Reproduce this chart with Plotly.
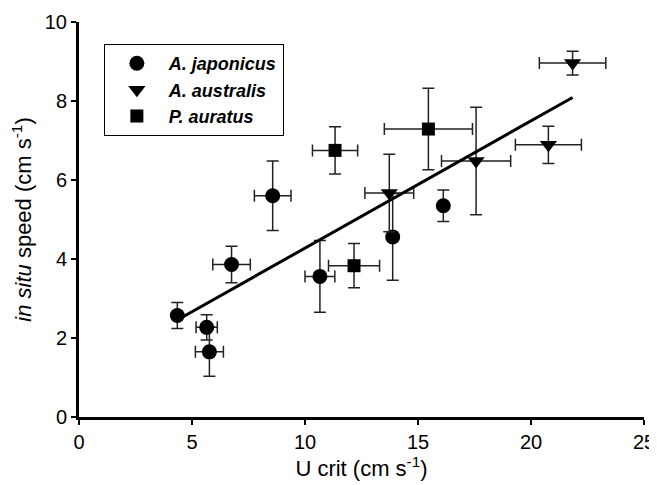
import numpy as np
import plotly.graph_objects as go

# A. japonicus (circles)
jap_x = [4.35, 5.65, 5.77, 6.75, 8.57, 10.66, 13.88, 16.12]
jap_y = [2.57, 2.27, 1.65, 3.86, 5.60, 3.56, 4.56, 5.35]
jap_xerr = [0.0, 0.47, 0.62, 0.83, 0.81, 0.66, 0.0, 0.0]
jap_yerr = [0.33, 0.32, 0.62, 0.46, 0.88, 0.91, 1.10, 0.40]

# A. australis (down triangles)
aus_x = [13.73, 17.57, 20.77, 21.84]
aus_y = [5.67, 6.48, 6.89, 8.96]
aus_xerr = [1.08, 1.53, 1.46, 1.47]
aus_yerr = [0.98, 1.36, 0.47, 0.30]

# P. auratus (squares)
aur_x = [11.33, 15.46, 12.17]
aur_y = [6.75, 7.29, 3.83]
aur_xerr = [1.00, 1.95, 1.13]
aur_yerr = [0.60, 1.03, 0.56]

names = ["A. japonicus", "A. australis", "P. auratus"]
x_ticks = [0, 5, 10, 15, 20, 25]
y_ticks = [0, 2, 4, 6, 8, 10]

FONT = "Liberation Sans, Arial, sans-serif"
ERRC = "#222222"

fig = go.Figure()

series = [
    (jap_x, jap_y, jap_xerr, jap_yerr, "circle", 15),
    (aus_x, aus_y, aus_xerr, aus_yerr, "triangle-down", 15),
    (aur_x, aur_y, aur_xerr, aur_yerr, "square", 13),
]
for (xs, ys, ex, ey, sym, sz), nm in zip(series, names):
    fig.add_trace(go.Scatter(
        x=xs, y=ys, mode="markers", name=f"<b><i>{nm}</i></b>",
        marker=dict(symbol=sym, size=sz, color="black"),
        error_x=dict(type="data", array=ex, color=ERRC, thickness=1.5, width=6),
        error_y=dict(type="data", array=ey, color=ERRC, thickness=1.5, width=6),
    ))

# regression line through all points
all_x = np.array(jap_x + aus_x + aur_x)
all_y = np.array(jap_y + aus_y + aur_y)
slope, intercept = np.polyfit(all_x, all_y, 1)
lx = np.array([all_x.min(), all_x.max()])
fig.add_trace(go.Scatter(
    x=lx, y=slope * lx + intercept, mode="lines",
    line=dict(color="black", width=3), showlegend=False, hoverinfo="skip",
))

# page body has an 8px margin, so the figure is drawn 8px in and 8px down
fig.update_layout(
    width=649, height=477,
    margin=dict(l=71, r=13, t=14, b=68),
    paper_bgcolor="white", plot_bgcolor="white",
    font=dict(family=FONT, size=20, color="black"),
    showlegend=True,
    legend=dict(
        x=0.044, y=0.944, xanchor="left", yanchor="top",
        bordercolor="black", borderwidth=1, bgcolor="white",
        font=dict(family=FONT, size=18, color="black"),
        tracegroupgap=0, itemwidth=54,
    ),
)
fig.update_xaxes(
    range=[0, 25], tickvals=x_ticks, ticktext=[str(v) for v in x_ticks],
    showgrid=False, zeroline=False, automargin=False,
    showline=True, linecolor="black", linewidth=3,
    ticks="outside", ticklen=5, tickwidth=1.5, tickcolor="black",
    tickfont=dict(size=20, color="black"),
    title=dict(text="U crit (cm s<sup>-1</sup>)", font=dict(size=22), standoff=4),
)
fig.update_yaxes(
    range=[0, 10], tickvals=y_ticks, ticktext=[str(v) for v in y_ticks],
    showgrid=False, zeroline=False, automargin=False,
    showline=True, linecolor="black", linewidth=3,
    ticks="outside", ticklen=5, tickwidth=1.5, tickcolor="black",
    tickfont=dict(size=20, color="black"),
    title=dict(text="<i>in situ</i> speed (cm s<sup>-1</sup>)", font=dict(size=22), standoff=10),
)

fig.write_html("out.html")
